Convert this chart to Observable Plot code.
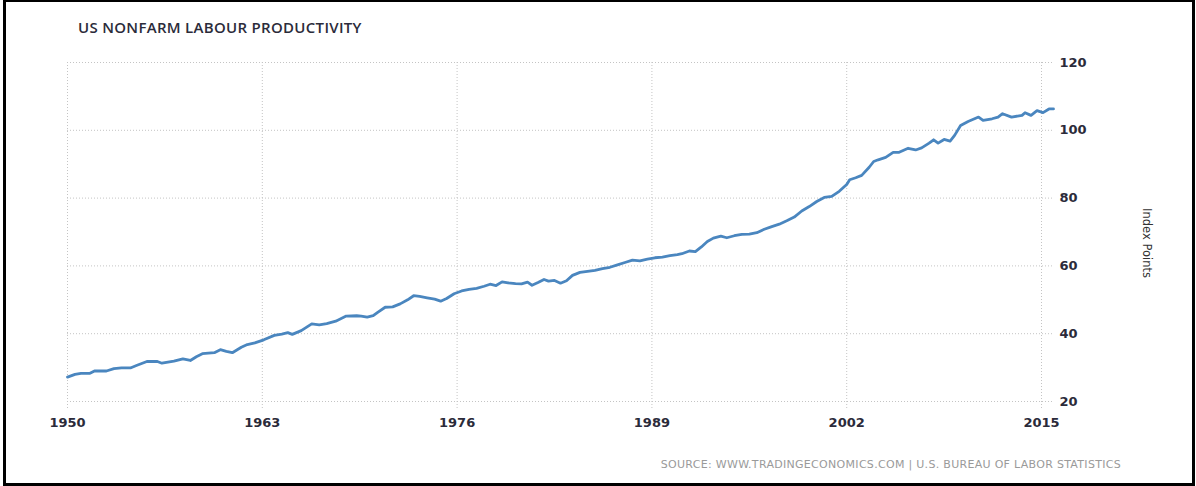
<!DOCTYPE html>
<html>
<head>
<meta charset="utf-8">
<script src="https://cdn.jsdelivr.net/npm/d3@7"></script>
<script src="https://cdn.jsdelivr.net/npm/@observablehq/plot@0.6"></script>
<style>
  html, body { margin: 0; padding: 0; background: #fff; }
  #wrap { position: relative; width: 1196px; height: 486px; overflow: hidden; background: #fff; }
  #title { height: 48px; box-sizing: border-box; padding: 18px 0 0 78px; font: 600 15px "Open Sans", sans-serif; line-height: 18px; color: #2b2b3a; letter-spacing: 0.3px; }
  #caption { height: 40px; box-sizing: border-box; padding: 12px 75px 0 0; text-align: right; font: 11px "DejaVu Sans", sans-serif; line-height: 14px; color: #9a9a9a; letter-spacing: 0.3px; }
  #ylab { position: absolute; left: 1147px; top: 243px; transform: translate(-50%, -50%) rotate(90deg); font: 11.5px "DejaVu Sans", sans-serif; color: #333; white-space: nowrap; }
  #border { position: absolute; left: 3px; top: 0; width: 1192px; height: 486px; box-sizing: border-box; border-left: 3px solid #000; border-top: 2px solid #000; border-right: 3px solid #000; border-bottom: 3px solid #000; pointer-events: none; }
  svg { display: block; }
</style>
</head>
<body>
<div id="wrap">
  <div id="title">US NONFARM LABOUR PRODUCTIVITY</div>
  <div id="chart"></div>
  <div id="caption">SOURCE: WWW.TRADINGECONOMICS.COM | U.S. BUREAU OF LABOR STATISTICS</div>
  <div id="ylab">Index Points</div>
  <div id="border"></div>
</div>
<script>
const years = [
  1950.0, 1950.5, 1950.9, 1951.5, 1951.8, 1952.6, 1953.1, 1953.6, 1954.2, 1954.6,
  1955.3, 1956.0, 1956.3, 1957.1, 1957.7, 1958.2, 1958.6, 1959.0, 1959.8, 1960.2,
  1960.6, 1961.0, 1961.6, 1962.0, 1962.5, 1963.1, 1963.8, 1964.3, 1964.7, 1965.0,
  1965.6, 1966.3, 1966.8, 1967.3, 1967.9, 1968.6, 1969.3, 1969.6, 1970.0, 1970.4,
  1970.7, 1971.2, 1971.7, 1972.2, 1972.7, 1973.1, 1973.5, 1974.0, 1974.5, 1974.9,
  1975.3, 1975.8, 1976.3, 1976.8, 1977.3, 1977.8, 1978.2, 1978.6, 1979.0, 1979.4,
  1979.9, 1980.3, 1980.7, 1981.0, 1981.4, 1981.8, 1982.1, 1982.5, 1982.9, 1983.3,
  1983.7, 1984.2, 1984.7, 1985.2, 1985.7, 1986.2, 1986.7, 1987.2, 1987.7, 1988.2,
  1988.7, 1989.2, 1989.7, 1990.2, 1990.7, 1991.0, 1991.5, 1991.9, 1992.3, 1992.7,
  1993.1, 1993.6, 1994.0, 1994.5, 1995.0, 1995.5, 1996.0, 1996.5, 1997.0, 1997.5,
  1998.0, 1998.5, 1999.0, 1999.5, 2000.0, 2000.5, 2001.0, 2001.5, 2002.0, 2002.2,
  2002.6, 2003.0, 2003.5, 2003.8, 2004.1, 2004.6, 2005.1, 2005.5, 2006.1, 2006.6,
  2007.0, 2007.5, 2007.8, 2008.1, 2008.5, 2008.9, 2009.2, 2009.6, 2010.1, 2010.8,
  2011.1, 2011.7, 2012.1, 2012.4, 2013.0, 2013.7, 2013.9, 2014.3, 2014.7, 2015.1,
  2015.5, 2015.8
];
const values = [
  27.2, 28.0, 28.3, 28.3, 29.0, 29.0, 29.7, 29.9, 29.9, 30.6,
  31.8, 31.8, 31.3, 31.9, 32.6, 32.1, 33.2, 34.1, 34.4, 35.3,
  34.8, 34.4, 36.0, 36.8, 37.3, 38.2, 39.5, 39.9, 40.3, 39.8,
  40.9, 42.9, 42.6, 43.0, 43.7, 45.2, 45.3, 45.2, 44.9, 45.3,
  46.3, 47.8, 47.9, 48.8, 50.0, 51.2, 51.0, 50.6, 50.2, 49.6,
  50.4, 51.8, 52.6, 53.1, 53.4, 54.0, 54.6, 54.2, 55.3, 55.0,
  54.8, 54.7, 55.2, 54.3, 55.1, 56.0, 55.5, 55.7, 54.9, 55.6,
  57.2, 58.1, 58.4, 58.7, 59.2, 59.6, 60.3, 61.0, 61.7, 61.5,
  62.0, 62.4, 62.6, 63.0, 63.3, 63.6, 64.4, 64.2, 65.6, 67.2,
  68.2, 68.8, 68.3, 68.9, 69.3, 69.4, 69.8, 70.8, 71.6, 72.3,
  73.3, 74.4, 76.2, 77.5, 79.0, 80.2, 80.5, 82.0, 84.0, 85.4,
  86.0, 86.7, 89.1, 90.8, 91.3, 92.0, 93.5, 93.5, 94.7, 94.2,
  94.8, 96.2, 97.2, 96.2, 97.3, 96.8, 98.5, 101.4, 102.6, 103.9,
  102.9, 103.4, 103.9, 104.9, 103.9, 104.4, 105.2, 104.4, 105.8, 105.2,
  106.3, 106.3
];
const xTicks = [1950, 1963, 1976, 1989, 2002, 2015];
const yTicks = [20, 40, 60, 80, 100, 120];

const data = years.map((t, i) => ({t, v: values[i]}));

const chart = Plot.plot({
  width: 1196,
  height: 398,
  marginLeft: 67,
  marginRight: 143,
  marginTop: 14,
  marginBottom: 45,
  style: {fontFamily: "DejaVu Sans, sans-serif", background: "transparent"},
  x: {domain: [1950, 2015.8], ticks: xTicks},
  y: {domain: [20, 120], ticks: yTicks},
  marks: [
    Plot.gridY(yTicks, {stroke: "#c4c4c4", strokeOpacity: 1, strokeDasharray: "1,2"}),
    Plot.gridX(xTicks, {stroke: "#c4c4c4", strokeOpacity: 1, strokeDasharray: "1,2"}),
    Plot.axisX(xTicks, {tickSize: 7, tickPadding: 9, stroke: "#c4c4c4", strokeDasharray: "1,2", fill: "#2b2b3a", fontSize: 13, fontWeight: "bold", tickFormat: d => String(d), label: null}),
    Plot.axisY(yTicks, {anchor: "right", tickSize: 0, tickPadding: 6, fill: "#2b2b3a", fontSize: 13, fontWeight: "bold", textAnchor: "start", label: null}),
    Plot.line(data, {x: "t", y: "v", stroke: "#4a86bf", strokeWidth: 2.8, curve: "linear"})
  ]
});
document.getElementById("chart").appendChild(chart);
</script>
</body>
</html>
